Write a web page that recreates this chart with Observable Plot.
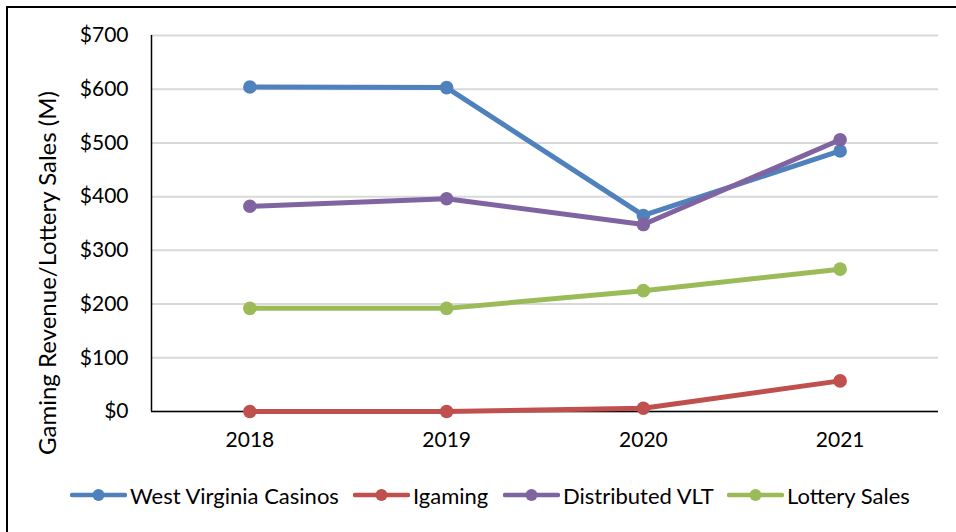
<!DOCTYPE html>
<html>
<head>
<meta charset="utf-8">
<script src="https://cdn.jsdelivr.net/npm/d3@7"></script>
<script src="https://cdn.jsdelivr.net/npm/@observablehq/plot@0.6"></script>
<style>
  html, body { margin: 0; padding: 0; background: #fff; overflow: hidden; }
  #wrap { position: relative; width: 956px; height: 532px; overflow: hidden; font-family: Lato, "Open Sans", sans-serif; color: #000; }
  #border { position: absolute; left: 6px; top: 6px; width: 980px; height: 560px; border: 2px solid #000; box-sizing: border-box; }
  #chart { position: absolute; left: 0; top: 0; }
  #ytitle { position: absolute; left: 46px; top: 273px; transform: translate(-50%, -50%) rotate(-90deg); white-space: nowrap; font-size: 24px; }
  #legend { position: absolute; left: 0; top: 482px; width: 956px; height: 26px; }
  .item { position: absolute; top: 0; height: 26px; display: flex; align-items: center; font-size: 22px; white-space: nowrap; }
  .item svg { margin-right: 3px; }
</style>
</head>
<body>
<div id="wrap">
  <div id="border"></div>
  <div id="chart"></div>
  <div id="ytitle">Gaming Revenue/Lottery Sales (M)</div>
  <div id="legend"></div>
</div>
<script>
const years = [2018, 2019, 2020, 2021];
const seriesNames = ["West Virginia Casinos", "Igaming", "Distributed VLT", "Lottery Sales"];
const wvCasinos = [604, 603, 365, 485];
const igaming = [0, 0, 6, 57];
const distributedVLT = [382, 396, 348, 506];
const lotterySales = [192, 192, 225, 265];
const seriesColors = ["#4F81BD", "#C0504D", "#8064A2", "#9BBB59"];
const yTicks = [0, 100, 200, 300, 400, 500, 600, 700];

const seriesValues = [wvCasinos, igaming, distributedVLT, lotterySales];
const data = [];
seriesNames.forEach((name, i) => {
  years.forEach((yr, j) => data.push({ series: name, year: yr, value: seriesValues[i][j] }));
});

const seriesMarks = seriesNames.flatMap(name => {
  const d = data.filter(r => r.series === name);
  return [
    Plot.line(d, { x: "year", y: "value", stroke: "series", strokeWidth: 5, strokeLinejoin: "round", strokeLinecap: "round" }),
    Plot.dot(d, { x: "year", y: "value", fill: "series", r: 6.8 })
  ];
});

const chart = Plot.plot({
  width: 956,
  height: 460,
  marginLeft: 151,
  marginRight: 18,
  marginTop: 35,
  marginBottom: 49,
  style: { fontFamily: "Lato, 'Open Sans', sans-serif", fontSize: "21px", color: "#000", background: "transparent", overflow: "visible" },
  x: { domain: [years[0] - 0.5, years[years.length - 1] + 0.5] },
  y: { domain: [0, 700] },
  color: { domain: seriesNames, range: seriesColors },
  marks: [
    Plot.gridY(yTicks, { stroke: "#d9d9d9", strokeOpacity: 1, strokeWidth: 2 }),
    Plot.axisY(yTicks, { tickSize: 0, tickPadding: 23, tickFormat: d => "$" + d, label: null, fontSize: 21 }),
    Plot.axisX(years, { tickSize: 0, tickPadding: 21, tickFormat: d => String(d), label: null, fontSize: 21 }),
    Plot.ruleX([years[0] - 0.5], { y1: 0, y2: 700, stroke: "#000", strokeWidth: 1.5 }),
    Plot.ruleY([0], { stroke: "#000", strokeWidth: 1.5 }),
    ...seriesMarks
  ]
});
document.getElementById("chart").appendChild(chart);

// legend
const legendX = [70, 353, 503, 727];
const legend = document.getElementById("legend");
seriesNames.forEach((name, i) => {
  const el = document.createElement("div");
  el.className = "item";
  el.style.left = legendX[i] + "px";
  el.innerHTML = `<svg width="57" height="16"><line x1="2" y1="8" x2="55" y2="8" stroke="${seriesColors[i]}" stroke-width="4.5" stroke-linecap="round"/><circle cx="28.5" cy="8" r="6" fill="${seriesColors[i]}"/></svg><span>${name}</span>`;
  legend.appendChild(el);
});
</script>
</body>
</html>
